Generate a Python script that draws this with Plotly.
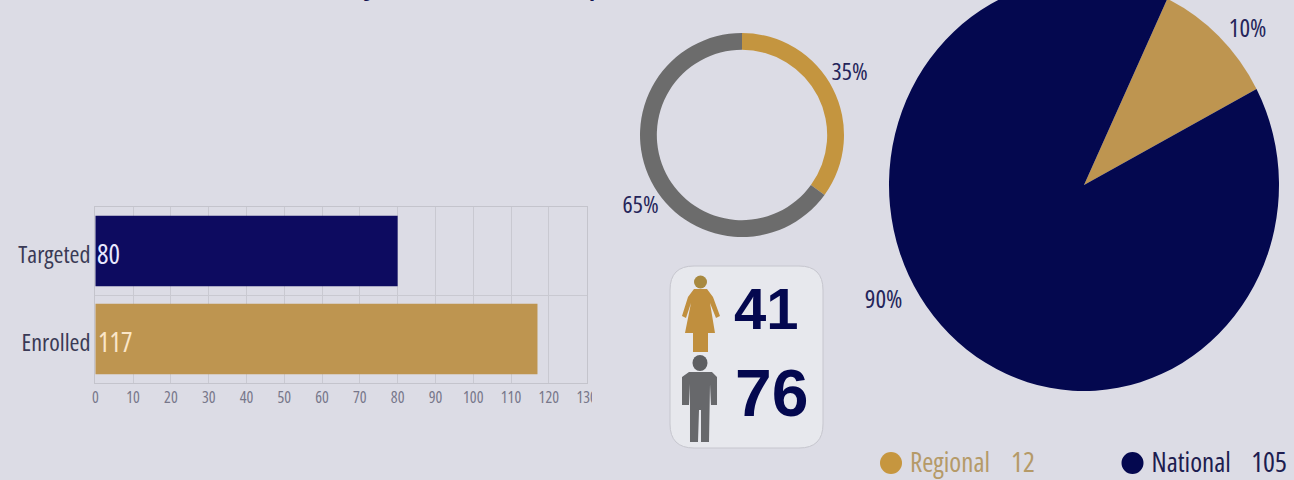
import plotly.graph_objects as go

W, H, OFF = 1294, 500, 20  # figure is 20px taller than the window: the large pie is cut by the top edge
FONT = "Open Sans"
BG = "#DCDCE5"; NAVY = "#04084F"; BARNAVY = "#0D0B60"; GOLD = "#BE9550"; RING = "#C4953F"; GRAY = "#6C6C6C"; INK = "#3A3A55"

bar_categories = ["Enrolled", "Targeted"]
bar_values = [117, 80]
bar_colors = [GOLD, BARNAVY]
bar_text_colors = ["#FBE6C8", "#E8E8FF"]
bar_text_shift = [20, 13]
x_ticks = list(range(0, 131, 10))

ring_labels = ["Female", "Male"]
ring_values = [35, 65]
pie_labels = ["Regional", "National"]
pie_values = [12, 105]
female_count, male_count = 41, 76


def px(x):
    return x / W


def py(y):
    return 1 - (y + OFF) / H


def P(pts):
    return "M" + " L".join(f"{px(x):.5f},{py(y):.5f}" for x, y in pts) + " Z"


def dom_x(a, b):
    return [px(a), px(b)]


def dom_y(top, bottom):
    return [py(bottom), py(top)]


fig = go.Figure()
fig.add_trace(go.Bar(
    y=bar_categories, x=bar_values, orientation="h", marker=dict(color=bar_colors, line=dict(width=0)),
    hoverinfo="skip", xaxis="x", yaxis="y"))
fig.add_trace(go.Pie(
    labels=ring_labels, values=ring_values, hole=0.835, sort=False, direction="clockwise", rotation=0,
    marker=dict(colors=[RING, GRAY], line=dict(width=0)), textinfo="none", showlegend=False,
    domain=dict(x=dom_x(640, 844), y=dom_y(33, 237))))
fig.add_trace(go.Pie(
    labels=pie_labels, values=pie_values, sort=False, direction="clockwise", rotation=25.3,
    marker=dict(colors=[GOLD, NAVY], line=dict(width=0)), textinfo="none", showlegend=False,
    domain=dict(x=dom_x(889, 1279), y=dom_y(-10, 380))))

for cat, val, col, shift in zip(bar_categories, bar_values, bar_text_colors, bar_text_shift):
    fig.add_annotation(xref="x", yref="y", x=0, y=cat, text=str(val), showarrow=False, xanchor="center",
                       yanchor="middle", xshift=shift, yshift=-2, font=dict(family=FONT, size=27, color=col))


def label(x, y, text, size, color, family=FONT, bold=False):
    fig.add_annotation(xref="paper", yref="paper", x=px(x), y=py(y), text=f"<b>{text}</b>" if bold else text,
                       showarrow=False, xanchor="center", yanchor="middle", borderpad=0,
                       font=dict(family=family, size=size, color=color))


label(849, 71, f"{ring_values[0]}%", 24, "#25255A")
label(640, 204, f"{ring_values[1]}%", 24, "#25255A")
label(1247, 27, f"{round(100 * pie_values[0] / sum(pie_values))}%", 25, "#25255A")
label(884, 298, f"{round(100 * pie_values[1] / sum(pie_values))}%", 25, "#25255A")
label(950, 461, pie_labels[0], 27, "#B59A68")
label(1023, 461, str(pie_values[0]), 28, "#B59A68")
label(1190.5, 461, pie_labels[1], 27, "#1D1D50")
label(1269, 461, str(pie_values[1]), 28, "#1D1D50")
label(766, 308, str(female_count), 58, NAVY, family="Liberation Sans", bold=True)
label(771.5, 393, str(male_count), 66, NAVY, family="Liberation Sans", bold=True)
label(372, -20, "y", 36, "#141450", family="Liberation Sans")
label(598, -20, "p", 36, "#141450", family="Liberation Sans")


def rrect(x0, y0, x1, y1, r):
    return (f"M{px(x0 + r)},{py(y0)} L{px(x1 - r)},{py(y0)} Q{px(x1)},{py(y0)} {px(x1)},{py(y0 + r)} "
            f"L{px(x1)},{py(y1 - r)} Q{px(x1)},{py(y1)} {px(x1 - r)},{py(y1)} "
            f"L{px(x0 + r)},{py(y1)} Q{px(x0)},{py(y1)} {px(x0)},{py(y1 - r)} "
            f"L{px(x0)},{py(y0 + r)} Q{px(x0)},{py(y0)} {px(x0 + r)},{py(y0)} Z")


def circle(cx, cy, rx, ry, color):
    fig.add_shape(type="circle", xref="paper", yref="paper", x0=px(cx - rx), x1=px(cx + rx),
                  y0=py(cy + ry), y1=py(cy - ry), fillcolor=color, line_width=0, layer="below")


def poly(pts, color):
    fig.add_shape(type="path", xref="paper", yref="paper", path=P(pts), fillcolor=color, line_width=0, layer="below")


fig.add_shape(type="path", xref="paper", yref="paper", path=rrect(670, 266, 823, 448, 24),
              fillcolor="#E7E8ED", line=dict(color="#C6C6CE", width=1), layer="below")
# woman
circle(700.5, 282, 6.5, 6.5, "#A8893F")
poly([(694, 289), (707, 289), (713, 297), (720, 316), (716, 318), (710, 303), (715, 333), (708, 333), (708, 352),
      (693, 352), (693, 333), (685, 333), (691, 303), (686, 318), (682, 316), (688, 297)], "#C08F3E")
# man
circle(700, 363, 7.5, 8, "#5E5F62")
poly([(689, 372), (712, 372), (717, 377), (717, 405), (711, 405), (710, 384), (709, 442), (701, 442), (701, 410),
      (699, 410), (698, 442), (690, 442), (690, 384), (689, 405), (682, 405), (682, 377)], "#67686B")
# legend dots
circle(891, 463, 11, 11, "#C6963F")
circle(1132.5, 463, 11, 11, NAVY)
# page crop of the "130" tick label
fig.add_shape(type="rect", xref="paper", yref="paper", x0=px(592), x1=px(606), y0=py(410), y1=py(385),
              fillcolor=BG, line_width=0, layer="above")

fig.update_layout(
    width=W, height=H, margin=dict(l=0, r=0, t=0, b=0, autoexpand=False), paper_bgcolor=BG,
    plot_bgcolor="rgba(0,0,0,0)", showlegend=False, bargap=0.2,
    xaxis=dict(domain=dom_x(95.3, 586.6), range=[0, 130], tickvals=x_ticks, ticktext=[str(v) for v in x_ticks],
               showgrid=True, gridcolor="#C9C9D1", gridwidth=1, showline=True, linecolor="#C4C4CC", mirror=True,
               zeroline=False, ticks="", tickfont=dict(family=FONT, size=16, color="#77778A")),
    yaxis=dict(domain=dom_y(207, 383), type="category", categoryorder="array", categoryarray=bar_categories,
               tickson="boundaries", showgrid=True, gridcolor="#C9C9D1", gridwidth=1, showline=True,
               linecolor="#C4C4CC", mirror=True, ticks="", ticklabelstandoff=-1, ticklabelshift=4,
               tickfont=dict(family=FONT, size=24, color=INK)),
)

SY = 206 / 195  # the large pie is slightly taller than wide in the reference
CX, CY = 1084, 185 + OFF
post = """
var st=document.createElement('style');
st.textContent="svg text{font-stretch:75%% !important;font-weight:300}";
document.head.appendChild(st);
document.documentElement.style.overflow='hidden';document.body.style.margin='0';document.body.style.overflow='hidden';
var g=document.getElementById('{plot_id}');g.style.marginTop='-%dpx';
var tr=g.querySelectorAll('.pielayer .trace');
tr[tr.length-1].setAttribute('transform','translate(%g,%g) scale(1,%g) translate(%g,%g)');
""" % (OFF, CX, CY, SY, -CX, -CY)

fig.write_html("out.html", post_script=post, config={"displayModeBar": False, "staticPlot": True})
